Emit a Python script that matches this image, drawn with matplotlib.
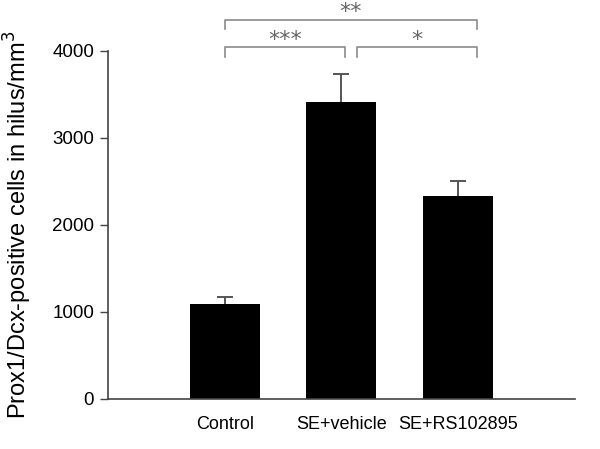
import matplotlib
matplotlib.use('Agg')
import matplotlib.pyplot as plt

# Data
groups = ['Control', 'SE+vehicle', 'SE+RS102895']
means = [1090, 3410, 2335]
sem = [85, 320, 165]

# significance brackets: (x start, x end, bar height, leg bottom, label)
brackets = [
    (1.0, 3.16, 4360, 4255, '**'),
    (1.0, 2.03, 4045, 3935, '***'),
    (2.13, 3.16, 4045, 3935, '*'),
]

plt.rcParams['font.family'] = ['Liberation Sans', 'DejaVu Sans']

fig = plt.figure(figsize=(6, 4.49), dpi=100)
ax = fig.add_axes([0.18, 0.1114, 0.778, 0.8886])

x = [1, 2, 3]
tops = [m + s for m, s in zip(means, sem)]
ax.bar(x, means, width=0.6, color='black', zorder=2)
# upper error bars only
ax.vlines(x, means, tops, color='#555555', lw=1.4, zorder=1)
ax.plot(x, tops, ls='none', marker='_', ms=11, mew=1.4, color='#555555',
        zorder=1)

for x0, x1, yt, yb, lab in brackets:
    ax.plot([x0, x0, x1, x1], [yb, yt, yt, yb], color='#8a8a8a', lw=1.2,
            clip_on=False)
    ax.text((x0 + x1) / 2, yt + 15, lab, ha='center', va='baseline',
            fontsize=16, color='#666666', family='DejaVu Sans')

ax.set_xlim(0, 4)
ax.set_ylim(0, 4586)
ax.set_yticks([0, 1000, 2000, 3000, 4000])
ax.set_xticks(x)
ax.set_xticklabels(groups, fontsize=13)
ax.tick_params(axis='x', length=0, pad=12)
ax.tick_params(axis='y', labelsize=13.5, length=6, width=1, color='#444444',
               direction='out', pad=4)

for s in ['top', 'right']:
    ax.spines[s].set_visible(False)
ax.spines['left'].set_bounds(0, 4000)
for s in ['left', 'bottom']:
    ax.spines[s].set_color('#444444')
    ax.spines[s].set_linewidth(1.2)

ax.set_ylabel('Prox1/Dcx-positive cells in hilus/mm$^3$', fontsize=17)
ax.yaxis.set_label_coords(-0.158, 0.436)

fig.savefig('out.png', dpi=100)
